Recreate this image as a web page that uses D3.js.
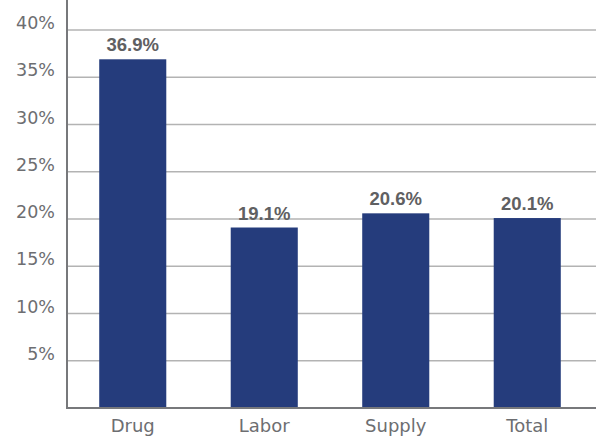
<!DOCTYPE html>
<html><head><meta charset="utf-8">
<script src="https://cdn.jsdelivr.net/npm/d3@7"></script>
<style>body{margin:0;background:#fff}svg{display:block}text{font-family:"DejaVu Sans",sans-serif}</style>
</head><body>
<script>
const categories = ["Drug","Labor","Supply","Total"];
const values = [36.9,19.1,20.6,20.1];
const ticks = [5,10,15,20,25,30,35,40];

const W=596,H=436;
const svg=d3.select("body").append("svg").attr("width",W).attr("height",H);
const x0=67, x1=593, yb=408;
const y=d3.scaleLinear().domain([0,40]).range([yb,30]);
const x=d3.scaleBand().domain(categories).range([x0,x1]).paddingInner(0.49).paddingOuter(0.245);

svg.append("g").selectAll("line").data(ticks).join("line")
  .attr("x1",x0).attr("x2",W).attr("y1",d=>y(d)).attr("y2",d=>y(d))
  .attr("stroke","#b3b3b3").attr("stroke-width",1.3);

svg.append("g").selectAll("text").data(ticks).join("text")
  .attr("x",55).attr("y",d=>y(d)-1).attr("text-anchor","end")
  .attr("fill","#6d6e71").attr("font-size",17.5).text(d=>d+"%");

svg.append("g").selectAll("rect").data(values).join("rect")
  .attr("x",(d,i)=>x(categories[i])).attr("width",x.bandwidth())
  .attr("y",d=>y(d)).attr("height",d=>yb-y(d)).attr("fill","#253c7c");

svg.append("g").selectAll("text").data(values).join("text")
  .attr("x",(d,i)=>x(categories[i])+x.bandwidth()/2).attr("y",d=>y(d)-8)
  .attr("text-anchor","middle").attr("fill","#5f6062").attr("font-size",18.5).attr("font-weight","bold")
  .style("font-family","'Liberation Sans',Arial,sans-serif")
  .text(d=>d.toFixed(1)+"%");

svg.append("g").selectAll("text").data(categories).join("text")
  .attr("x",d=>x(d)+x.bandwidth()/2).attr("y",432)
  .attr("text-anchor","middle").attr("fill","#6d6e71").attr("font-size",18).text(d=>d);

svg.append("line").attr("x1",x0).attr("x2",W).attr("y1",yb).attr("y2",yb).attr("stroke","#77787b").attr("stroke-width",2);
svg.append("line").attr("x1",x0).attr("x2",x0).attr("y1",0).attr("y2",yb+1).attr("stroke","#77787b").attr("stroke-width",2);
</script>
</body></html>
